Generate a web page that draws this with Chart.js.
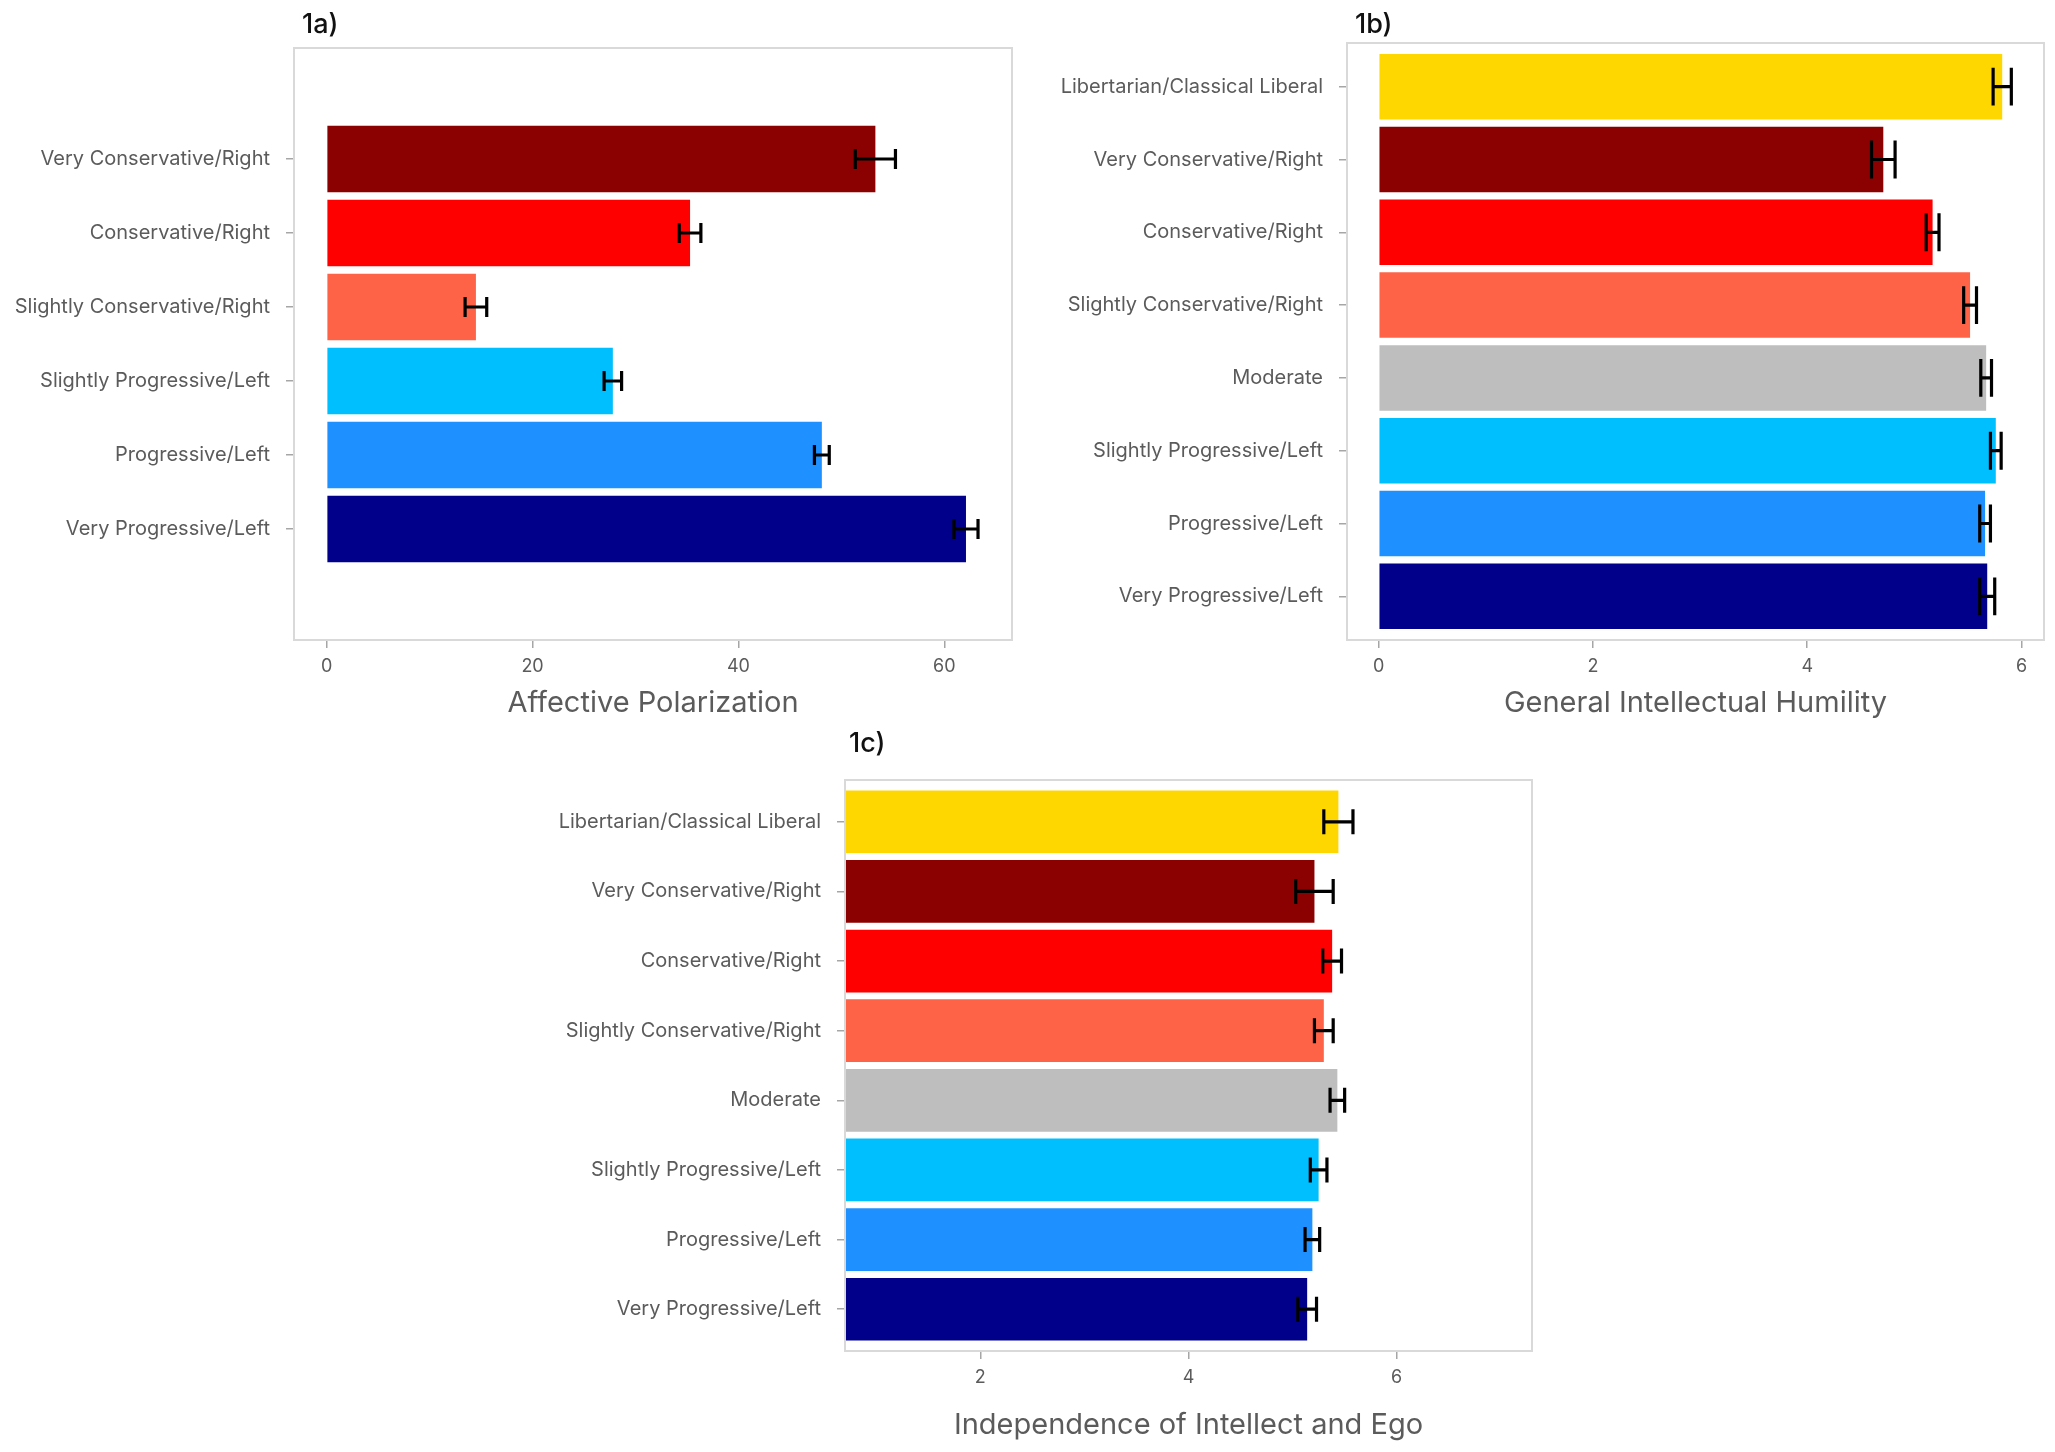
<!DOCTYPE html>
<html>
<head>
<meta charset="utf-8">
<script src="https://cdn.jsdelivr.net/npm/chart.js@4.4.1/dist/chart.umd.min.js"></script>
<style>
  body { margin: 0; background: #fff; width: 2055px; height: 1452px; position: relative; overflow: hidden; }
  canvas { position: absolute; }
</style>
</head>
<body>
<canvas id="chart1a" width="1030" height="740" style="left:0;top:0"></canvas>
<canvas id="chart1b" width="1025" height="740" style="left:1030px;top:0"></canvas>
<canvas id="chart1c" width="1100" height="732" style="left:500px;top:720px"></canvas>
<script>
// ---- data ----
const cats1a = ['Very Conservative/Right', 'Conservative/Right', 'Slightly Conservative/Right',
                'Slightly Progressive/Left', 'Progressive/Left', 'Very Progressive/Left'];
const colors1a = ['#8B0000', '#FF0000', '#FF6347', '#00BFFF', '#1E90FF', '#00008B'];
const vals1a = [53.3, 35.3, 14.5, 27.8, 48.1, 62.1];
const errs1a = [1.95, 1.05, 1.05, 0.85, 0.72, 1.17];
const ticks1a = [0, 20, 40, 60];

const cats8 = ['Libertarian/Classical Liberal', 'Very Conservative/Right', 'Conservative/Right',
               'Slightly Conservative/Right', 'Moderate', 'Slightly Progressive/Left',
               'Progressive/Left', 'Very Progressive/Left'];
const colors8 = ['#FFD700', '#8B0000', '#FF0000', '#FF6347', '#BEBEBE', '#00BFFF', '#1E90FF', '#00008B'];

const vals1b = [5.82, 4.71, 5.17, 5.52, 5.67, 5.76, 5.66, 5.68];
const errs1b = [0.085, 0.11, 0.06, 0.06, 0.05, 0.05, 0.05, 0.07];
const ticks1b = [0, 2, 4, 6];

const vals1c = [5.44, 5.21, 5.38, 5.30, 5.43, 5.25, 5.19, 5.14];
const errs1c = [0.14, 0.18, 0.09, 0.09, 0.07, 0.08, 0.07, 0.09];
const ticks1c = [2, 4, 6];

const FONT = 'Inter';
const TXT = '#5b5b5b';

// box around the plotting area
const framePlugin = {
  id: 'frame',
  afterDatasetsDraw(chart) {
    const a = chart.chartArea, ctx = chart.ctx;
    ctx.save();
    ctx.strokeStyle = '#d9d9d9';
    ctx.lineWidth = 2;
    ctx.strokeRect(a.left, a.top, a.right - a.left, a.bottom - a.top);
    ctx.restore();
  }
};

// horizontal error bars with end caps
const errPlugin = {
  id: 'errBars',
  afterDatasetsDraw(chart, args, opts) {
    const x = chart.scales.x, y = chart.scales.y, ctx = chart.ctx;
    const vals = chart.data.datasets[0].data;
    ctx.save();
    ctx.strokeStyle = '#000';
    ctx.lineWidth = opts.lineWidth;
    vals.forEach((d, i) => {
      const e = opts.errs[i];
      const xl = x.getPixelForValue(d.x - e), xr = x.getPixelForValue(d.x + e);
      const yc = y.getPixelForValue(d.y);
      const h = Math.abs(y.getPixelForValue(d.y + opts.cap / 2) - yc);
      ctx.beginPath();
      ctx.moveTo(xl, yc); ctx.lineTo(xr, yc);
      ctx.moveTo(xl, yc - h); ctx.lineTo(xl, yc + h);
      ctx.moveTo(xr, yc - h); ctx.lineTo(xr, yc + h);
      ctx.stroke();
    });
    ctx.restore();
  }
};

// "1a)" style panel tag
const tagPlugin = {
  id: 'tag',
  afterDraw(chart, args, opts) {
    const a = chart.chartArea, ctx = chart.ctx;
    ctx.save();
    ctx.fillStyle = '#111';
    ctx.font = '500 27px ' + FONT;
    ctx.textBaseline = 'alphabetic';
    ctx.fillText(opts.text, a.left + opts.dx, a.top - opts.dy);
    ctx.restore();
  }
};

function panel(id, cats, vals, errs, colors, xticks, p) {
  const el = document.getElementById(id);
  return new Chart(el, {
    type: 'bar',
    data: {
      datasets: [{
        data: vals.map((v, i) => ({ x: v, y: i })),
        backgroundColor: colors,
        borderWidth: 0,
        categoryPercentage: 1,
        barPercentage: 0.9
      }]
    },
    options: {
      indexAxis: 'y',
      responsive: false,
      animation: false,
      layout: { padding: { left: 0, right: p.padRight, top: p.padTop, bottom: 0 } },
      plugins: {
        legend: { display: false },
        tooltip: { enabled: false },
        tag: { text: p.tag, dx: p.tagDx, dy: p.tagDy },
        errBars: { errs: errs, cap: p.cap, lineWidth: 3.2 }
      },
      scales: {
        x: {
          type: 'linear',
          min: p.xmin,
          max: p.xmax,
          afterBuildTicks: s => { s.ticks = xticks.map(v => ({ value: v })); },
          afterFit: s => { s.height = p.xh; },
          grid: { drawOnChartArea: false, tickLength: 8, color: '#a6a6a6', lineWidth: 1.5 },
          border: { display: false },
          ticks: { padding: 8, color: TXT, font: { family: FONT, size: 18 } },
          title: {
            display: true, text: p.xtitle, color: TXT,
            font: { family: FONT, size: 29 },
            padding: { top: 0, bottom: p.titlePad }
          }
        },
        y: {
          type: 'linear',
          reverse: true,
          offset: false,
          min: p.ymin,
          max: p.ymax,
          afterBuildTicks: s => { s.ticks = cats.map((c, i) => ({ value: i })); },
          afterFit: s => { s.width = p.yw; },
          grid: { offset: false, drawOnChartArea: false, tickLength: 8, color: '#a6a6a6', lineWidth: 1.5 },
          border: { display: false },
          ticks: {
            autoSkip: false, padding: 16, color: TXT,
            font: { family: FONT, size: 20 },
            callback: v => cats[v]
          }
        }
      }
    },
    plugins: [framePlugin, errPlugin, tagPlugin]
  });
}

panel('chart1a', cats1a, vals1a, errs1a, colors1a, ticks1a, {
  xmin: -3.17, xmax: 66.57, ymin: -1.5, ymax: 6.5,
  yw: 294, xh: 100, padRight: 18, padTop: 48, titlePad: 19,
  cap: 0.27, tag: '1a)', tagDx: 8, tagDy: 15,
  xtitle: 'Affective Polarization'
});

panel('chart1b', cats8, vals1b, errs1b, colors8, ticks1b, {
  xmin: -0.296, xmax: 6.21, ymin: -0.6, ymax: 7.6,
  yw: 317, xh: 100, padRight: 11, padTop: 43, titlePad: 19,
  cap: 0.52, tag: '1b)', tagDx: 8, tagDy: 10,
  xtitle: 'General Intellectual Humility'
});

panel('chart1c', cats8, vals1c, errs1c, colors8, ticks1c, {
  xmin: 0.7, xmax: 7.3, ymin: -0.6, ymax: 7.6,
  yw: 345, xh: 101, padRight: 68, padTop: 60, titlePad: 9,
  cap: 0.36, tag: '1c)', tagDx: 4, tagDy: 28,
  xtitle: 'Independence of Intellect and Ego'
});
</script>
</body>
</html>
